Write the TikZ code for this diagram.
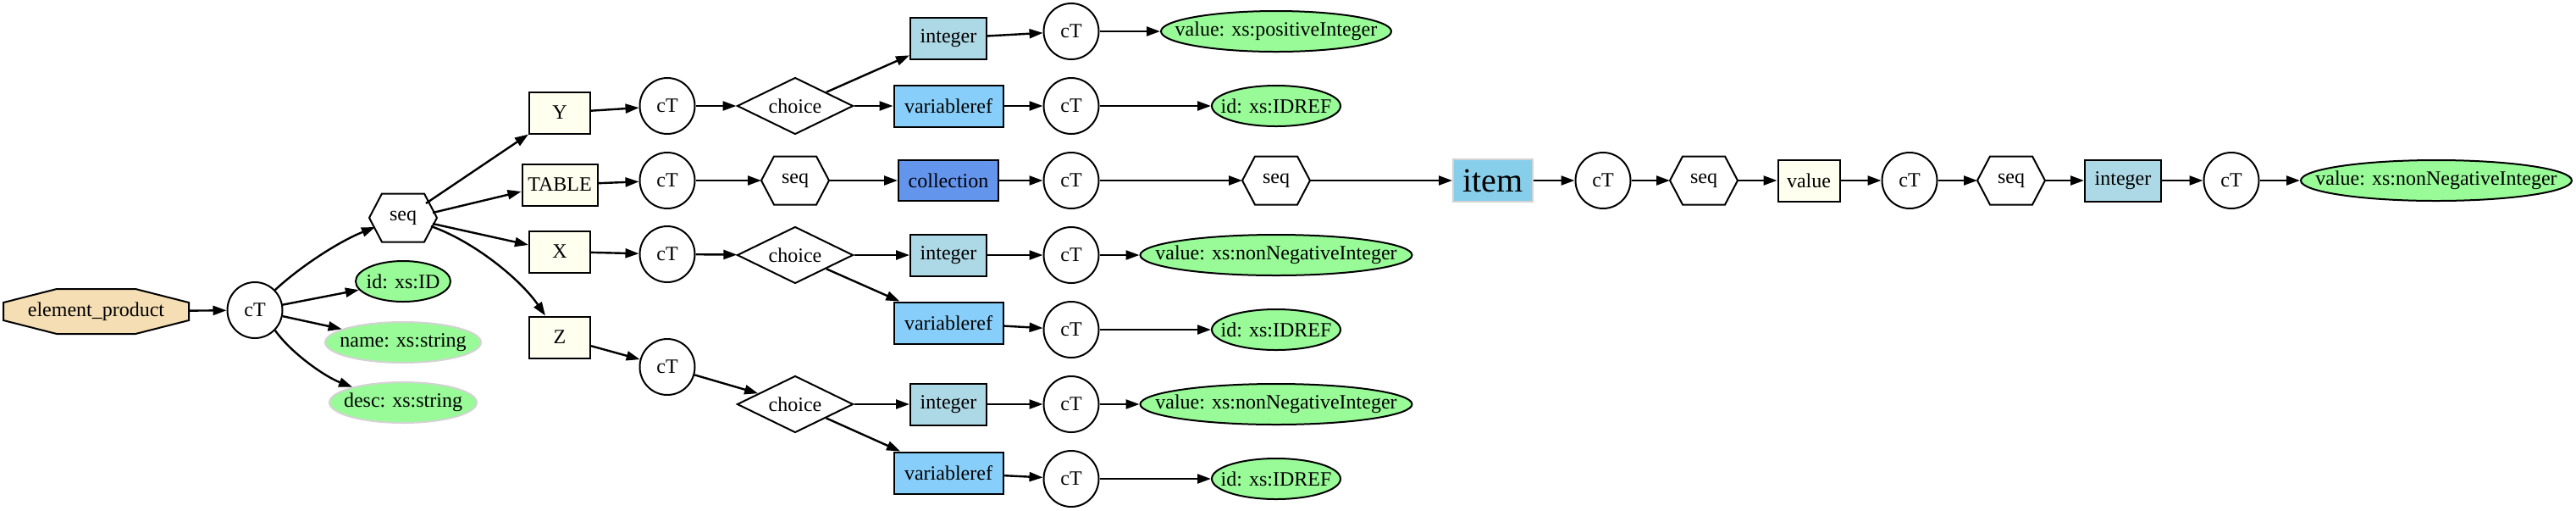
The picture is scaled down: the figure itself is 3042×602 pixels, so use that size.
\documentclass[tikz,border=0pt]{standalone}
\usepackage{fontspec}
\setmainfont{Liberation Serif}
\usetikzlibrary{shapes.geometric, arrows.meta, calc}
\pgfdeclarelayer{bg}
\pgfsetlayers{bg,main}
\definecolor{wheatc}{HTML}{F5DEB3}
\definecolor{ivoryc}{HTML}{FFFFF0}
\definecolor{lblue}{HTML}{ADD8E6}
\definecolor{lsky}{HTML}{87CEFA}
\definecolor{cornfl}{HTML}{6495ED}
\definecolor{skyb}{HTML}{87CEEB}
\definecolor{pgreen}{HTML}{98FB98}
\definecolor{lgray}{HTML}{D3D3D3}
\begin{document}
\begin{tikzpicture}[x=0.5pt,y=-0.5pt, line width=1pt,
  >={Triangle[length=8pt,width=5.5pt]},
  every node/.style={font=\fontsize{12}{14}\selectfont, inner sep=0pt},
  ct/.style={ellipse, draw, fill=white, minimum width=32.5pt, minimum height=33pt},
  elbox/.style={rectangle, draw, fill=ivoryc, minimum height=24.5pt},
  intbox/.style={rectangle, draw, fill=lblue, minimum width=45pt, minimum height=24.5pt},
  varbox/.style={rectangle, draw, fill=lsky, minimum width=64.5pt, minimum height=24.5pt},
  attr/.style={ellipse, draw, fill=pgreen, minimum height=24pt},
  attrg/.style={ellipse, draw=lgray, fill=pgreen, minimum height=24pt},
  hexa/.style={rectangle, minimum width=39pt, minimum height=27.5pt},
  choicebox/.style={diamond, aspect=2, draw, fill=white, minimum width=68.5pt, minimum height=33.5pt},
  conn/.style={->, draw=black, line width=1.2pt}
]
\useasboundingbox (0,0) rectangle (3042,602);

% nodes
\node[rectangle, minimum width=108.5pt, minimum height=25.5pt] (ep) at (113.5,367.5) {element\_product};
\node[ct] (c0) at (301,366) {cT};
\node[hexa] (s0) at (476,257) {seq};
\node[attr, minimum width=56pt] (aid) at (476,332) {\makebox[0pt]{id: xs:ID}};
\node[attrg, minimum width=92pt] (aname) at (476,404) {\makebox[0pt]{name: xs:string}};
\node[attrg, minimum width=87pt] (adesc) at (476,475) {\makebox[0pt]{desc: xs:string}};

\node[elbox, minimum width=36pt] (nY) at (661,133) {Y};
\node[elbox, minimum width=44.5pt] (nT) at (661,218) {TABLE};
\node[elbox, minimum width=36pt] (nX) at (661,297) {X};
\node[elbox, minimum width=36pt] (nZ) at (661,398) {Z};

\node[ct] (cY) at (788,125) {cT};
\node[ct] (cTa) at (788,213) {cT};
\node[ct] (cX) at (788,300) {cT};
\node[ct] (cZ) at (788,433) {cT};

\node[choicebox] (chY) at (939,125) {choice};
\node[hexa] (sT) at (939,213) {seq};
\node[choicebox] (chX) at (939,301) {choice};
\node[choicebox] (chZ) at (939,477) {choice};

\node[intbox] (iY) at (1120,45) {integer};
\node[varbox] (vY) at (1120,125) {variableref};
\node[rectangle, draw, fill=cornfl, minimum width=59pt, minimum height=24pt] (coll) at (1120,213) {collection};
\node[intbox] (iX) at (1120,301) {integer};
\node[varbox] (vX) at (1120,381) {variableref};
\node[intbox] (iZ) at (1120,477) {integer};
\node[varbox] (vZ) at (1120,558) {variableref};

\node[ct] (ciY) at (1265,37) {cT};
\node[ct] (cvY) at (1265,125) {cT};
\node[ct] (cColl) at (1265,213) {cT};
\node[ct] (ciX) at (1265,301) {cT};
\node[ct] (cvX) at (1265,389) {cT};
\node[ct] (ciZ) at (1265,477) {cT};
\node[ct] (cvZ) at (1265,565) {cT};

\node[attr, minimum width=136pt] (aY) at (1507,37) {\makebox[0pt]{value: xs:positiveInteger}};
\node[attr, minimum width=76pt] (idY) at (1507,125) {\makebox[0pt]{id: xs:IDREF}};
\node[hexa] (sColl) at (1507,213) {seq};
\node[attr, minimum width=160.5pt] (aX) at (1507,301) {\makebox[0pt]{value: xs:nonNegativeInteger}};
\node[attr, minimum width=76pt] (idX) at (1507,389) {\makebox[0pt]{id: xs:IDREF}};
\node[attr, minimum width=160.5pt] (aZ) at (1507,477) {\makebox[0pt]{value: xs:nonNegativeInteger}};
\node[attr, minimum width=76pt] (idZ) at (1507,565) {\makebox[0pt]{id: xs:IDREF}};

\node[rectangle, draw=lgray, fill=skyb, minimum width=47pt, minimum height=25pt, font=\fontsize{20}{24}\selectfont] (item) at (1763,213) {item};
\node[ct] (cItem) at (1893,213) {cT};
\node[hexa] (sItem) at (2012,213) {seq};
\node[elbox, minimum width=36.5pt] (vb) at (2136,213) {value};
\node[ct] (cV) at (2255,213) {cT};
\node[hexa] (sV) at (2375,213) {seq};
\node[intbox] (iV) at (2507,213) {integer};
\node[ct] (cIV) at (2635,213) {cT};
\node[attr, minimum width=160pt] (aF) at (2877,213) {\makebox[0pt]{value: xs:nonNegativeInteger}};

% shapes drawn around named nodes
\begin{pgfonlayer}{bg}
\draw[fill=wheatc, line width=1pt] ($(ep.west)+(0,-10.5)$) -- ($(ep.north west)+(63,0)$) -- ($(ep.north east)+(-63,0)$) -- ($(ep.east)+(0,-10.5)$) -- ($(ep.east)+(0,10.5)$) -- ($(ep.south east)+(-63,0)$) -- ($(ep.south west)+(63,0)$) -- ($(ep.west)+(0,10.5)$) -- cycle;
\end{pgfonlayer}
\foreach \n in {s0,sT,sColl,sItem,sV}
  \draw[draw=black, line width=1pt] (\n.west) -- ($(\n.north west)+(15,0)$) -- ($(\n.north east)+(-15,0)$) -- (\n.east) -- ($(\n.south east)+(-15,0)$) -- ($(\n.south west)+(15,0)$) -- cycle;

% connectors
\draw[conn] (ep) -- (c0);
\draw[conn] (c0.45) .. controls (354,315) and (400,285) .. ($(s0)+(-33,11)$);
\draw[conn] (c0) -- (aid);
\draw[conn] (c0) -- (aname);
\draw[conn] (c0.-45) .. controls (345,418) and (385,445) .. (adesc.163);

\draw[conn] ($(s0)+(27,-17)$) -- (nY.south west);
\draw[conn] ($(s0)+(35,-6)$) -- ($(nT.west)+(0,8)$);
\draw[conn] ($(s0)+(35,7)$) -- ($(nX.west)+(0,-8)$);
\draw[conn] ($(s0)+(33,10)$) .. controls (560,285) and (615,330) .. ($(nZ.north west)+(20,0)$);

\draw[conn] (nY) -- (cY);
\draw[conn] (nT) -- (cTa);
\draw[conn] (nX) -- (cX);
\draw[conn] (nZ) -- (cZ);

\draw[conn] (cY) -- (chY);
\draw[conn] (cTa) -- (sT);
\draw[conn] (cX) -- (chX);
\draw[conn] (cZ) -- (chZ);

\draw[conn] (chY) -- (iY);
\draw[conn] (chY) -- (vY);
\draw[conn] (sT) -- (coll);
\draw[conn] (chX) -- (iX);
\draw[conn] (chX) -- (vX);
\draw[conn] (chZ) -- (iZ);
\draw[conn] (chZ) -- (vZ);

\draw[conn] (iY) -- (ciY);
\draw[conn] (vY) -- (cvY);
\draw[conn] (coll) -- (cColl);
\draw[conn] (iX) -- (ciX);
\draw[conn] (vX) -- (cvX);
\draw[conn] (iZ) -- (ciZ);
\draw[conn] (vZ) -- (cvZ);

\draw[conn] (ciY) -- (aY);
\draw[conn] (cvY) -- (idY);
\draw[conn] (cColl) -- (sColl);
\draw[conn] (ciX) -- (aX);
\draw[conn] (cvX) -- (idX);
\draw[conn] (ciZ) -- (aZ);
\draw[conn] (cvZ) -- (idZ);

\draw[conn] (sColl) -- (item);
\draw[conn] (item) -- (cItem);
\draw[conn] (cItem) -- (sItem);
\draw[conn] (sItem) -- (vb);
\draw[conn] (vb) -- (cV);
\draw[conn] (cV) -- (sV);
\draw[conn] (sV) -- (iV);
\draw[conn] (iV) -- (cIV);
\draw[conn] (cIV) -- (aF);
\end{tikzpicture}
\end{document}
